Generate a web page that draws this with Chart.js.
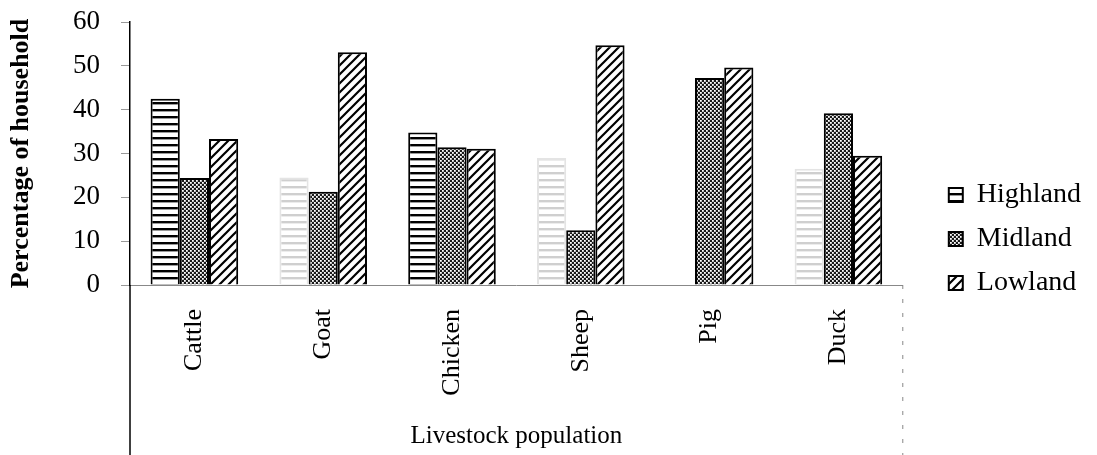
<!DOCTYPE html>
<html>
<head>
<meta charset="utf-8">
<script src="https://cdn.jsdelivr.net/npm/chart.js@4"></script>
<style>
  html, body { margin: 0; padding: 0; background: #fff; }
  #wrap { width: 1097px; height: 455px; }
</style>
</head>
<body>
<div id="wrap"><canvas id="c" width="1097" height="455"></canvas></div>
<script>
// ---- data ----
const categories = ["Cattle", "Goat", "Chicken", "Sheep", "Pig", "Duck"];
const seriesNames = ["Highland", "Midland", "Lowland"];
const highland = [42.5, 24.5, 34.8, 29, null, 26.5];
const midland  = [24.4, 21.3, 31.4, 12.5, 47.2, 39.2];
const lowland  = [33.3, 53.1, 31.1, 54.7, 49.6, 29.5];
const yTicks = [0, 10, 20, 30, 40, 50, 60];
// scan artefact: some Highland bars are printed faintly
const highlandFaint = [false, true, false, true, false, true];

const FONT = "'Liberation Serif', 'Times New Roman', serif";

function makeCanvas(w, h) {
  const c = document.createElement('canvas');
  c.width = w; c.height = h;
  return c;
}
function hPattern(color) {
  const c = makeCanvas(8, 7), x = c.getContext('2d');
  x.fillStyle = '#fff'; x.fillRect(0, 0, 8, 7);
  x.fillStyle = color; x.fillRect(0, 4, 8, 2.4);
  return x.createPattern(c, 'repeat');
}
function dotPattern() {
  const c = makeCanvas(4, 4), x = c.getContext('2d');
  x.fillStyle = '#1a1a1a'; x.fillRect(0, 0, 4, 4);
  x.fillStyle = '#fff';
  x.fillRect(0, 0, 1.8, 1.8);
  x.fillRect(2, 2, 1.8, 1.8);
  return x.createPattern(c, 'repeat');
}
function diagPattern() {
  const s = 9;
  const c = makeCanvas(s, s), x = c.getContext('2d');
  x.fillStyle = '#fff'; x.fillRect(0, 0, s, s);
  x.strokeStyle = '#000'; x.lineWidth = 2.2; x.lineCap = 'square';
  x.beginPath();
  x.moveTo(0, s); x.lineTo(s, 0);
  x.moveTo(-s / 2, s / 2); x.lineTo(s / 2, -s / 2);
  x.moveTo(s / 2, s + s / 2); x.lineTo(s + s / 2, s / 2);
  x.stroke();
  return x.createPattern(c, 'repeat');
}
const patHigh = hPattern('#000');
const patHighFaint = hPattern('#cfcfcf');
const patMid = dotPattern();
const patLow = diagPattern();

const frameLines = {
  id: 'frameLines',
  afterDraw(chart) {
    const { ctx, chartArea: a, height } = chart;
    ctx.save();
    ctx.strokeStyle = '#000'; ctx.lineWidth = 1.5;
    ctx.beginPath(); ctx.moveTo(a.left, a.bottom); ctx.lineTo(a.left, height); ctx.stroke();
    ctx.strokeStyle = '#888'; ctx.lineWidth = 1; ctx.setLineDash([4, 10]);
    ctx.beginPath(); ctx.moveTo(a.right, a.bottom); ctx.lineTo(a.right, height); ctx.stroke();
    ctx.restore();
  }
};

new Chart(document.getElementById('c'), {
  type: 'bar',
  data: {
    labels: categories,
    datasets: [
      {
        label: seriesNames[0], data: highland,
        backgroundColor: (ctx) => (ctx.type === 'data' && highlandFaint[ctx.dataIndex]) ? patHighFaint : patHigh,
        borderColor: (ctx) => (ctx.type === 'data' && highlandFaint[ctx.dataIndex]) ? '#e4e4e4' : '#000',
        borderWidth: 2
      },
      { label: seriesNames[1], data: midland, backgroundColor: patMid, borderColor: '#000', borderWidth: 2 },
      { label: seriesNames[2], data: lowland, backgroundColor: patLow, borderColor: '#000', borderWidth: 2 }
    ]
  },
  options: {
    responsive: false,
    animation: false,
    layout: { padding: { left: 6, top: 5, right: 6, bottom: 4 } },
    datasets: { bar: { barPercentage: 1.0, categoryPercentage: 0.68 } },
    plugins: {
      tooltip: { enabled: false },
      legend: {
        position: 'right',
        title: { display: true, text: ' ', font: { size: 10 }, padding: 5 },
        labels: {
          color: '#000',
          font: { family: FONT, size: 28 },
          boxWidth: 14, boxHeight: 14,
          padding: 16,
          generateLabels(chart) {
            return chart.data.datasets.map((d, i) => ({
              text: d.label,
              fillStyle: [patHigh, patMid, patLow][i],
              strokeStyle: '#000',
              fontColor: '#000',
              lineWidth: 2,
              datasetIndex: i,
              hidden: false
            }));
          }
        }
      }
    },
    scales: {
      x: {
        afterFit(scale) { scale.height = 166; },
        grid: { display: false, drawTicks: false },
        border: { display: true, color: '#888', width: 1, dash: [6, 6] },
        ticks: {
          color: '#000', font: { family: FONT, size: 26 },
          minRotation: 90, maxRotation: 90, padding: 24, autoSkip: false
        },
        title: {
          display: true, text: 'Livestock population', color: '#000',
          font: { family: FONT, size: 25 }, padding: { top: 10, bottom: 0 }
        }
      },
      y: {
        min: 0, max: 60,
        afterBuildTicks(scale) { scale.ticks = yTicks.map(v => ({ value: v })); },
        afterFit(scale) { scale.width = 124; scale.paddingTop = 22; scale.paddingBottom = 10; },
        grid: { drawOnChartArea: false, drawTicks: true, tickLength: 9, color: '#999', lineWidth: 1 },
        border: { display: true, color: '#000', width: 1.5 },
        ticks: { color: '#000', font: { family: FONT, size: 27 }, padding: 21 },
        title: {
          display: true, text: 'Percentage of household', color: '#000',
          font: { family: FONT, size: 26, weight: 'bold' }, padding: { top: 0, bottom: 0 }
        }
      },
      gap: {
        type: 'linear', position: 'right', display: true,
        afterFit(scale) { scale.width = 30; },
        grid: { display: false, drawTicks: false },
        border: { display: false },
        ticks: { display: false }
      }
    }
  },
  plugins: [frameLines]
});
</script>
</body>
</html>
